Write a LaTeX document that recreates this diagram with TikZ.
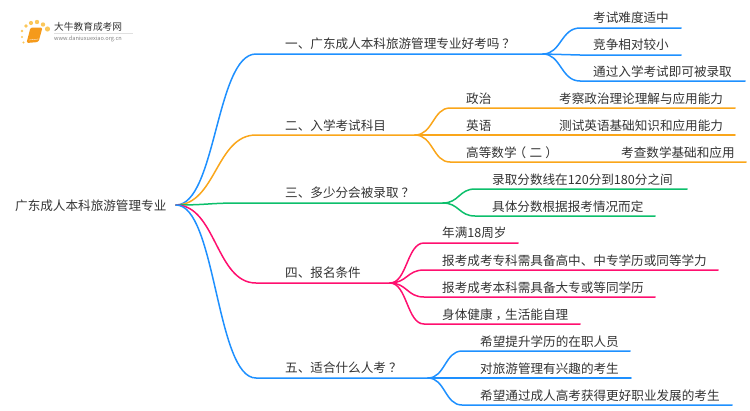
\documentclass[tikz,border=0pt]{standalone}
\usepackage{fontspec}
\setmainfont{Noto Sans CJK SC}
\usepackage{tikz}
\usetikzlibrary{positioning}
\definecolor{inkgrey}{HTML}{333333}
\definecolor{mapblue}{HTML}{1E90FF}
\definecolor{maporange}{HTML}{FAA61A}
\definecolor{mapgreen}{HTML}{0CBF6B}
\definecolor{mappink}{HTML}{FF0F6F}
\definecolor{bookorange}{HTML}{F59A1B}
\definecolor{dotyellow}{HTML}{FBC75A}
\tikzset
{
  topic/.style  = {anchor=west, inner sep=0pt, yshift=-0.6pt, text=inkgrey, font=\fontsize{12.6}{14}\selectfont},
  branch/.style = {line width=1.5pt, line cap=round},
  logodot/.style = {fill=dotyellow, draw=none}
}

\begin{document}
\begin{tikzpicture}[x=1pt,y=-1pt]
  \useasboundingbox (0,0) rectangle (750,410);

  % logo
  \fill[logodot] (26,26) circle (1.8);
  \fill[logodot] (31,23) circle (2.1);
  \fill[logodot] (37,22) circle (2.2);
  \fill[logodot] (43,24.5) circle (2.2);
  \fill[logodot] (47.5,29) circle (2.6);
  \fill[logodot] (22,31) circle (1.3);
  \fill[logodot] (22,37) circle (1.2);
  \fill[logodot] (23.5,42.5) circle (1.1);
  \fill[bookorange, rounded corners=1.5pt] (30.5,27.5) -- (42.5,27.5) -- (38.5,42) -- (26.5,43) -- cycle;
  \draw[white, line width=0.3pt] (29,40) -- (38.5,39);
  \draw[black!12, line width=0.4pt] (54,33) -- (133,33);
  \node [anchor=west, inner sep=0pt, text=inkgrey, font=\fontsize{9.7}{11}\selectfont] (logotitle) at (54,27) {大牛教育成考网};
  \node [anchor=west, inner sep=0pt, text=gray, font=\fontsize{5.6}{7}\selectfont] (logourl) at (54,38.5) {www.daniuxuexiao.org.cn};

  % root
  \node [topic] (root) at (15,205) {广东成人本科旅游管理专业};
  \coordinate (o) at (176,205);

  % first level
  \coordinate (a1) at (256,54);  \coordinate (e1) at (543,54);
  \coordinate (a2) at (256,135); \coordinate (e2) at (415,135);
  \coordinate (a3) at (240,203); \coordinate (e3) at (443,203);
  \coordinate (a4) at (256,283); \coordinate (e4) at (390,283);
  \coordinate (a5) at (256,378); \coordinate (e5) at (428,378);

  \draw[branch, mapblue] (o) .. controls (216,205) and (216,54) .. (a1) -- (e1);
  \draw[branch, maporange] (o) .. controls (216,205) and (216,135) .. (a2) -- (e2);
  \draw[branch, mapgreen] (o) .. controls (208,205) and (208,203) .. (a3) -- (e3);
  \draw[branch, mappink] (o) .. controls (216,205) and (216,283) .. (a4) -- (e4);
  \draw[branch, mapblue] (o) .. controls (216,205) and (216,378) .. (a5) -- (e5);

  \node [topic] (t1) at (285,43.5) {一、广东成人本科旅游管理专业好考吗\hspace{3pt}？};
  \node [topic] (t2) at (285,125) {二、入学考试科目};
  \node [topic] (t3) at (285,192.5) {三、多少分会被录取\hspace{3pt}？};
  \node [topic] (t4) at (285,272.5) {四、报名条件};
  \node [topic] (t5) at (285,367.5) {五、适合什么人考\hspace{3pt}？};

  % first branch
  \coordinate (l11) at (580,28); \coordinate (m11) at (681,28);
  \coordinate (l12) at (580,55); \coordinate (m12) at (681,55);
  \coordinate (l13) at (580,81); \coordinate (m13) at (745,81);
  \draw[branch, mapblue] (e1) .. controls (561,54) and (561,28) .. (l11) -- (m11);
  \draw[branch, mapblue] (e1) .. controls (561,54) and (561,55) .. (l12) -- (m12);
  \draw[branch, mapblue] (e1) .. controls (561,54) and (561,81) .. (l13) -- (m13);
  \node [topic] (n11) at (593,17) {考试难度适中};
  \node [topic] (n12) at (593,44) {竞争相对较小};
  \node [topic] (n13) at (593,71) {通过入学考试即可被录取};

  % second branch
  \coordinate (l21) at (450,108); \coordinate (m21) at (735,108);
  \coordinate (l22) at (450,135); \coordinate (m22) at (735,135);
  \coordinate (l23) at (450,162); \coordinate (m23) at (746,162);
  \draw[branch, maporange] (e2) .. controls (433,135) and (433,108) .. (l21) -- (m21);
  \draw[branch, maporange] (e2) -- (l22) -- (m22);
  \draw[branch, maporange] (e2) .. controls (433,135) and (433,162) .. (l23) -- (m23);
  \node [topic] (n21) at (466,98) {政治};
  \node [topic] (n22) at (466,125) {英语};
  \node [topic] (n23) at (466,152) {高等数学\hspace{-3pt}（\hspace{3.5pt}二\hspace{3pt}）};
  \node [topic] (d21) at (559,98) {考察政治理论理解与应用能力};
  \node [topic] (d22) at (559,125) {测试英语基础知识和应用能力};
  \node [topic] (d23) at (621,152) {考查数学基础和应用};

  % third branch
  \coordinate (l31) at (475,189); \coordinate (m31) at (687,189);
  \coordinate (l32) at (475,216); \coordinate (m32) at (655,216);
  \draw[branch, mapgreen] (e3) .. controls (459,203) and (459,189) .. (l31) -- (m31);
  \draw[branch, mapgreen] (e3) .. controls (459,203) and (459,216) .. (l32) -- (m32);
  \node [topic] (n31) at (492,179) {录取分数线在120分到180分之间};
  \node [topic] (n32) at (492,206) {具体分数根据报考情况而定};

  % fourth branch
  \coordinate (l41) at (424,243); \coordinate (m41) at (518,243);
  \coordinate (l42) at (424,270); \coordinate (m42) at (718,270);
  \coordinate (l43) at (424,297); \coordinate (m43) at (655,297);
  \coordinate (l44) at (424,324); \coordinate (m44) at (580,324);
  \draw[branch, mappink] (e4) .. controls (407,283) and (407,243) .. (l41) -- (m41);
  \draw[branch, mappink] (e4) .. controls (407,283) and (407,270) .. (l42) -- (m42);
  \draw[branch, mappink] (e4) .. controls (407,283) and (407,297) .. (l43) -- (m43);
  \draw[branch, mappink] (e4) .. controls (407,283) and (407,324) .. (l44) -- (m44);
  \node [topic] (n41) at (442,232.5) {年满18周岁};
  \node [topic] (n42) at (442,260) {报考成考专科需具备高中、中专学历或同等学力};
  \node [topic] (n43) at (442,287) {报考成考本科需具备大专或等同学历};
  \node [topic] (n44) at (442,314) {身体健康\hspace{3pt}，\hspace{-3pt}生活能自理};

  % fifth branch
  \coordinate (l51) at (462,351); \coordinate (m51) at (630,351);
  \coordinate (l52) at (462,378); \coordinate (m52) at (631,378);
  \coordinate (l53) at (462,405); \coordinate (m53) at (732,405);
  \draw[branch, mapblue] (e5) .. controls (445,378) and (445,351) .. (l51) -- (m51);
  \draw[branch, mapblue] (e5) -- (l52) -- (m52);
  \draw[branch, mapblue] (e5) .. controls (445,378) and (445,405) .. (l53) -- (m53);
  \node [topic] (n51) at (480,341) {希望提升学历的在职人员};
  \node [topic] (n52) at (480,368) {对旅游管理有兴趣的考生};
  \node [topic] (n53) at (480,395) {希望通过成人高考获得更好职业发展的考生};
\end{tikzpicture}
\end{document}
